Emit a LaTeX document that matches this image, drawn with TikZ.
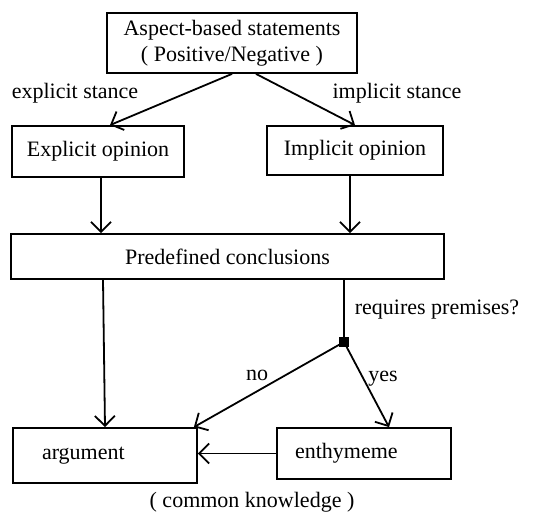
\documentclass[tikz,border=0pt]{standalone}
\usepackage{fontspec}
\setmainfont{Liberation Serif}
\usetikzlibrary{arrows.meta}

\begin{document}
\begin{tikzpicture} [x=0.5pt, y=-0.5pt, font=\fontsize{11}{13}\selectfont, line width=0.9pt]
\tikzstyle{box}=[draw, inner sep=0pt, align=center];
\tikzstyle{arr}=[-{Straight Barb[length=5pt,width=10pt]}];
\useasboundingbox (0,0) rectangle (556,512);
\node [box, minimum width=125pt, minimum height=30pt] (stmt) at (232,43) {Aspect-based statements\\( Positive/Negative )};
\node [box, minimum width=86pt, minimum height=25.5pt] (expl) at (98,151.5) {Explicit opinion};
\node [box, minimum width=88pt, minimum height=24.5pt] (impl) at (355,150.5) {Implicit opinion};
\node [box, minimum width=216.5pt, minimum height=22.5pt] (concl) at (227.5,256.5) {Predefined conclusions};
\node [box, minimum height=27.5pt, inner xsep=14.5pt, text width=63pt, align=left] (arg) at (105,455.5) {argument};
\node [box, minimum height=25.5pt, inner xsep=9pt, text width=69pt, align=left] (enth) at (364,453.5) {enthymeme};
\node [draw, fill, inner sep=0pt, minimum size=4pt] (split) at (344,342) {};
% labels
\node (lexpl) at (75,93) {explicit stance};
\node (limpl) at (397,93) {implicit stance};
\node (lreq) at (437,310) {requires premises?};
\node (lno) at (257,375) {no};
\node (lyes) at (383,379) {yes};
\node (lknow) at (252,502) {( common knowledge )};
% arrows
\draw [arr] (stmt.south) -- ([xshift=6pt]expl.north);
\draw [arr] ([xshift=12pt]stmt.south) -- (impl.north);
\draw [arr] ([xshift=1.5pt]expl.south) -- ([xshift=1.5pt]expl.south |- concl.north);
\draw [arr] ([xshift=-2.5pt]impl.south) -- ([xshift=-2.5pt]impl.south |- concl.north);
\draw [arr] ([xshift=-1pt]arg.north |- concl.south) -- (arg.north);
\draw (split |- concl.south) -- (split);
\draw [arr] (split) -- ([xshift=-2pt]arg.north east);
\draw [arr] (split) -- ([xshift=12.5pt]enth.north);
\draw [arr] (enth.west) -- (enth.west -| arg.east);
\end{tikzpicture}
\end{document}
